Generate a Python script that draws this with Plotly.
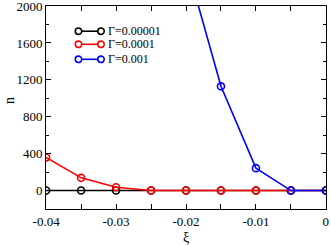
import plotly.graph_objects as go

xi = [-0.04, -0.035, -0.03, -0.025, -0.02, -0.015, -0.01, -0.005, 0.0]
n_g00001 = [0, 0, 0, 0, 0, 0, 0, 0, 0]
n_g0001 = [360, 138, 36, 0, 0, 0, 0, 0, 0]
xi_blue = [-0.02, -0.015, -0.01, -0.005, 0.0]
n_g001 = [2480, 1130, 243, 0, 0]

labels = ["Γ=0.00001", "Γ=0.0001", "Γ=0.001"]
colors = ["#000000", "#ff0000", "#0000ff"]

FONT = "Liberation Serif, Times New Roman, serif"

fig = go.Figure()
for xs, ys, c, name in [(xi, n_g00001, colors[0], labels[0]),
                        (xi, n_g0001, colors[1], labels[1]),
                        (xi_blue, n_g001, colors[2], labels[2])]:
    fig.add_trace(go.Scatter(
        x=xs, y=ys, mode="lines+markers", name=name,
        line=dict(color=c, width=1.6),
        marker=dict(symbol="circle-open", size=7, color=c, line=dict(width=1.6, color=c)),
        showlegend=False, cliponaxis=True))

W, H = 331, 245
L, R, T, B = 46, 5, 6, 36
pw, ph = W - L - R, H - T - B

def px(xp):
    return (xp - L) / pw

def py(yp):
    return (H - B - yp) / ph

rows = [31.2, 44.3, 59.3]
shapes = []
annotations = []
for r, c, lab in zip(rows, colors, labels):
    yy = py(r)
    shapes.append(dict(type="line", xref="paper", yref="paper",
                       x0=px(78.5), x1=px(101), y0=yy, y1=yy,
                       line=dict(color=c, width=1.6)))
    for xc in (78.5, 101):
        shapes.append(dict(type="circle", xref="paper", yref="paper",
                           xsizemode="pixel", ysizemode="pixel",
                           xanchor=px(xc), yanchor=yy,
                           x0=-3.2, x1=3.2, y0=-3.2, y1=3.2,
                           fillcolor="white", line=dict(color=c, width=1.6)))
    annotations.append(dict(x=px(106), y=yy, xref="paper", yref="paper",
                            text=lab, showarrow=False, xanchor="left", yanchor="middle",
                            font=dict(family=FONT, size=12, color="black")))

annotations.append(dict(x=px(186), y=py(237), xref="paper", yref="paper",
                        text="ξ", showarrow=False, xanchor="center", yanchor="middle",
                        font=dict(family=FONT, size=14, color="black")))
annotations.append(dict(x=px(9), y=py(101), xref="paper", yref="paper",
                        text="n", showarrow=False, xanchor="center", yanchor="middle",
                        textangle=-90,
                        font=dict(family=FONT, size=14, color="black")))

fig.update_layout(
    width=W, height=H,
    margin=dict(l=L, r=R, t=T, b=B, autoexpand=False),
    paper_bgcolor="white", plot_bgcolor="white",
    font=dict(family=FONT, size=13, color="black"),
    shapes=shapes, annotations=annotations,
    showlegend=False,
)
fig.update_xaxes(
    range=[-0.04002, 0.00002], tickvals=[-0.04, -0.03, -0.02, -0.01, 0.0],
    ticktext=["-0.04", "-0.03", "-0.02", "-0.01", "0"],
    ticks="inside", ticklen=5, tickwidth=1, tickcolor="black",
    minor=dict(tickvals=[-0.035, -0.025, -0.015, -0.005], ticks="inside", ticklen=5, tickcolor="black"),
    showline=True, linecolor="black", linewidth=1, mirror="ticks",
    showgrid=False, zeroline=False, automargin=False,
    ticklabeloverflow="allow",
    tickfont=dict(family=FONT, size=13),
)
fig.update_yaxes(
    range=[-200, 2001], tickvals=[0, 400, 800, 1200, 1600, 2000],
    ticks="inside", ticklen=5, tickwidth=1, tickcolor="black",
    minor=dict(dtick=200, ticks="inside", ticklen=3, tickcolor="black"),
    showline=True, linecolor="black", linewidth=1, mirror="ticks",
    showgrid=False, zeroline=False, automargin=False,
    ticklabeloverflow="allow",
    tickfont=dict(family=FONT, size=13),
)

fig.write_html("out.html", config={"displayModeBar": False},
               post_script="document.body.style.margin='0';document.body.style.padding='0';")
